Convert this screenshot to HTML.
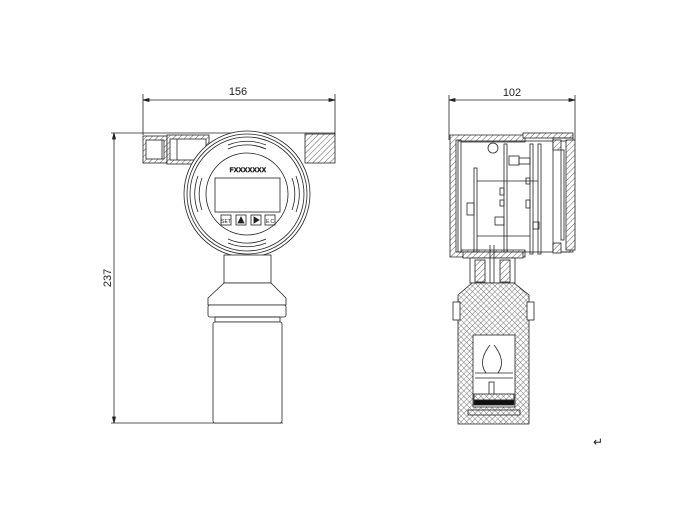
<!DOCTYPE html>
<html><head><meta charset="utf-8"><style>
html,body{margin:0;padding:0;background:#fff;width:690px;height:508px;overflow:hidden}
svg{display:block}
text{font-family:"Liberation Sans",sans-serif;fill:#222}
</style></head><body>
<svg width="690" height="508" viewBox="0 0 690 508" xmlns="http://www.w3.org/2000/svg">
<defs>
<pattern id="h" width="4" height="4" patternUnits="userSpaceOnUse" patternTransform="rotate(45)">
<rect width="4" height="4" fill="#fff"/><line x1="0" y1="0" x2="0" y2="4" stroke="#333" stroke-width="0.8"/></pattern>
<pattern id="x" width="4" height="4" patternUnits="userSpaceOnUse" patternTransform="rotate(45)">
<rect width="4" height="4" fill="#fff"/><line x1="0" y1="0" x2="0" y2="4" stroke="#444" stroke-width="0.7"/><line x1="0" y1="0" x2="4" y2="0" stroke="#444" stroke-width="0.7"/></pattern>
</defs>
<g stroke="#222" stroke-width="0.8" fill="none">
<!-- dimension 156 -->
<line x1="143" y1="94" x2="143" y2="135"/><line x1="335" y1="94" x2="335" y2="135"/>
<line x1="143" y1="100" x2="335" y2="100"/>
<path d="M143 100 l6 -1.5 v3z M335 100 l-6 -1.5 v3z" fill="#222"/>
<!-- dimension 237 -->
<line x1="111" y1="133" x2="335" y2="133"/><line x1="111" y1="423" x2="283" y2="423"/>
<line x1="114" y1="133" x2="114" y2="423"/>
<path d="M114 133 l-1.5 6 h3z M114 423 l-1.5 -6 h3z" fill="#222"/>
<!-- left fitting -->
<rect x="143" y="136" width="24" height="27" fill="url(#h)"/>
<rect x="146" y="140" width="18" height="19" fill="#fff"/>
<line x1="162" y1="140" x2="162" y2="159"/>
<rect x="167" y="135" width="42" height="29" fill="url(#h)"/>
<rect x="170" y="139" width="36" height="21" fill="#fff"/>
<line x1="177" y1="139" x2="177" y2="160"/>
<!-- right block -->
<rect x="305" y="134" width="30" height="29" fill="url(#h)"/>
<!-- housing -->
<circle cx="247" cy="194" r="63" fill="#fff"/>
<circle cx="247" cy="194" r="60"/>
<circle cx="247" cy="194" r="57"/>
<circle cx="247" cy="194" r="41"/>
<path d="M228 145 A50 50 0 0 1 266 145 M228 149 A46 46 0 0 1 266 149" />
<path d="M228 243 A50 50 0 0 0 266 243 M228 239 A46 46 0 0 0 266 239"/>
<path d="M198 176 A52 52 0 0 0 198 212 M202 178 A48 48 0 0 0 202 210"/>
<path d="M296 176 A52 52 0 0 1 296 212 M292 178 A48 48 0 0 1 292 210"/>
<rect x="215" y="178" width="65" height="34"/>
<rect x="221" y="215" width="10" height="10"/><rect x="236" y="215" width="10" height="10"/>
<rect x="251" y="215" width="10" height="10"/><rect x="265" y="215" width="10" height="10"/>
<path d="M238 223 l3 -6 l3 6z M254 217 l5 3 l-5 3z" fill="#222"/>
<!-- neck, cone, flange, cylinder -->
<rect x="224" y="255" width="47" height="28" fill="#fff"/>
<path d="M224 283 L208 298 V305 H286 V298 L271 283Z" fill="#fff"/>
<rect x="208" y="305" width="78" height="12" rx="2" fill="#fff"/>
<rect x="215" y="317" width="65" height="5"/>
<rect x="213" y="322" width="69" height="101" rx="2" fill="#fff"/>
<!-- dimension 102 -->
<line x1="449" y1="95" x2="449" y2="140"/><line x1="575" y1="95" x2="575" y2="140"/>
<line x1="449" y1="100" x2="575" y2="100"/>
<path d="M449 100 l6 -1.5 v3z M575 100 l-6 -1.5 v3z" fill="#222"/>
<!-- right housing -->
<path d="M450 135 h75 v7 h-67 v108 h67 v7 h-75z" fill="url(#h)"/>
<rect x="456" y="140" width="5" height="112" fill="#fff"/>
<rect x="458" y="141" width="112" height="111"/>
<rect x="523" y="133" width="50" height="5" fill="url(#h)"/>
<rect x="553" y="138" width="20" height="114"/>
<rect x="553" y="140" width="8" height="10" fill="url(#h)"/>
<rect x="553" y="243" width="8" height="10" fill="url(#h)"/>
<rect x="566" y="140" width="9" height="110" fill="url(#h)"/>
<rect x="561" y="150" width="3" height="90"/>
<circle cx="493" cy="148" r="5"/>
<rect x="474" y="168" width="3" height="86"/><rect x="504" y="144" width="3" height="110"/>
<rect x="530" y="144" width="3" height="110"/><rect x="538" y="144" width="3" height="110"/>
<rect x="509" y="156" width="10" height="9"/><rect x="519" y="158" width="11" height="6"/>
<rect x="467" y="203" width="7" height="12"/><rect x="500" y="188" width="4" height="7"/>
<rect x="500" y="200" width="4" height="6"/><rect x="495" y="217" width="9" height="8"/>
<rect x="526" y="178" width="4" height="6"/><rect x="526" y="200" width="4" height="8"/>
<rect x="533" y="222" width="6" height="7"/>
<line x1="477" y1="181" x2="538" y2="181"/><line x1="477" y1="236" x2="530" y2="236"/>
<!-- neck -->
<rect x="463" y="252" width="60" height="6" fill="url(#h)"/>
<rect x="470" y="258" width="45" height="25" fill="#fff"/>
<rect x="475" y="260" width="10" height="22" fill="url(#h)"/>
<rect x="500" y="260" width="10" height="22" fill="url(#h)"/>
<line x1="490" y1="245" x2="490" y2="370"/><line x1="494" y1="245" x2="494" y2="370"/>
<!-- bottle -->
<path d="M472 283 h42 l15 12 v129 h-71 v-129z" fill="url(#x)"/>
<rect x="453" y="302" width="7" height="18" fill="#fff"/><rect x="527" y="302" width="7" height="18" fill="#fff"/>
<rect x="473" y="335" width="42" height="72" fill="#fff"/>
<rect x="468" y="410" width="52" height="5"/>
<line x1="475" y1="373" x2="513" y2="373"/><line x1="475" y1="378" x2="513" y2="378"/>
<path d="M490 345 c-8 10 -10 20 -4 28 M494 345 c8 10 10 20 4 28"/>
<rect x="489" y="382" width="5" height="16"/>
<rect x="474" y="394" width="40" height="6" fill="url(#x)"/>
<rect x="474" y="400" width="40" height="5" fill="#111"/>
</g>
<text x="238" y="95" font-size="11" text-anchor="middle">156</text>
<text x="512" y="96" font-size="11" text-anchor="middle">102</text>
<text x="0" y="0" font-size="11" text-anchor="middle" transform="translate(111 278) rotate(-90)">237</text>
<text x="248" y="172" font-size="6.5" font-weight="bold" text-anchor="middle" letter-spacing="0.3" stroke="#222" stroke-width="0.4">FXXXXXXX</text>
<text x="226" y="223" font-size="5" text-anchor="middle">SET</text>
<text x="270" y="223" font-size="5" text-anchor="middle">E C</text>
<text x="598" y="446" font-size="12" fill="#666" text-anchor="middle">↵</text>
</svg>
</body></html>
